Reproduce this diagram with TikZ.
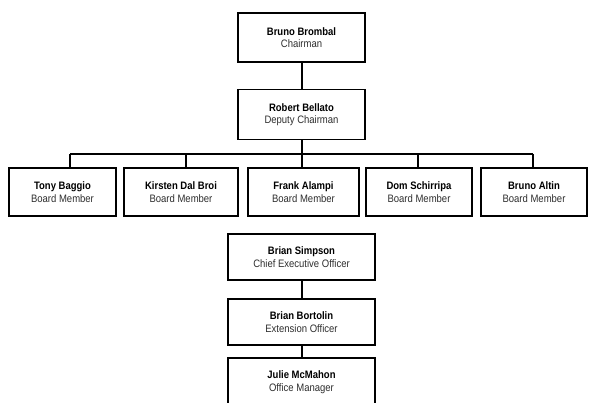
\documentclass[tikz,border=0pt]{standalone}
\usepackage{fontspec}
\setmainfont{Liberation Sans}[FakeStretch=0.88]
\begin{document}
\begin{tikzpicture}[x=1pt,y=-1pt,
  orgbox/.style={draw=black, line width=1.7pt, fill=white, inner sep=0pt, align=center,
    font=\fontsize{10.8}{12.5}\selectfont, text=black!82},
  link/.style={draw=black, line width=2pt}]
\useasboundingbox (0,0) rectangle (592,403);
\clip (0,0) rectangle (592,403);
\newcommand{\who}[2]{\textbf{\textcolor{black}{#1}}\\#2}
% connectors' bus coordinates
\coordinate (c1) at (70,154);
\coordinate (c2) at (186,154);
\coordinate (c3) at (302,154);
\coordinate (c4) at (418,154);
\coordinate (c5) at (533,154);
% top
\node[orgbox, minimum width=127pt, minimum height=49pt] (bb) at (301.5,37.5) {\who{Bruno Brombal}{Chairman}};
\node[orgbox, minimum width=127pt, minimum height=50pt] (rb) at (301.5,114.5) {\who{Robert Bellato}{Deputy Chairman}};
% board
\node[orgbox, minimum width=107pt, minimum height=48pt] (tb) at (62.5,192) {\who{Tony Baggio}{Board Member}};
\node[orgbox, minimum width=114pt, minimum height=48pt] (kd) at (181,192) {\who{Kirsten Dal Broi}{Board Member}};
\node[orgbox, minimum width=111pt, minimum height=48pt] (fa) at (303.5,192) {\who{Frank Alampi}{Board Member}};
\node[orgbox, minimum width=106pt, minimum height=48pt] (ds) at (419,192) {\who{Dom Schirripa}{Board Member}};
\node[orgbox, minimum width=106pt, minimum height=48pt] (ba) at (534,192) {\who{Bruno Altin}{Board Member}};
% executive
\node[orgbox, minimum width=147pt, minimum height=46pt] (bs) at (301.5,257) {\who{Brian Simpson}{Chief Executive Officer}};
\node[orgbox, minimum width=147pt, minimum height=46pt] (bo) at (301.5,322) {\who{Brian Bortolin}{Extension Officer}};
\node[orgbox, minimum width=147pt, minimum height=48pt] (jm) at (301.5,382) {\who{Julie McMahon}{Office Manager}};
% connectors
\draw[link] (bb.south) -- (rb.north);
\draw[link] (c3 |- rb.south) -- (c3);
\draw[link] (c1) -- (c5);
\draw[link] (c1) -- (c1 |- tb.north);
\draw[link] (c2) -- (c2 |- kd.north);
\draw[link] (c3) -- (c3 |- fa.north);
\draw[link] (c4) -- (c4 |- ds.north);
\draw[link] (c5) -- (c5 |- ba.north);
\draw[link] (bs.south) -- (bo.north);
\draw[link] (bo.south) -- (jm.north);
\end{tikzpicture}
\end{document}
